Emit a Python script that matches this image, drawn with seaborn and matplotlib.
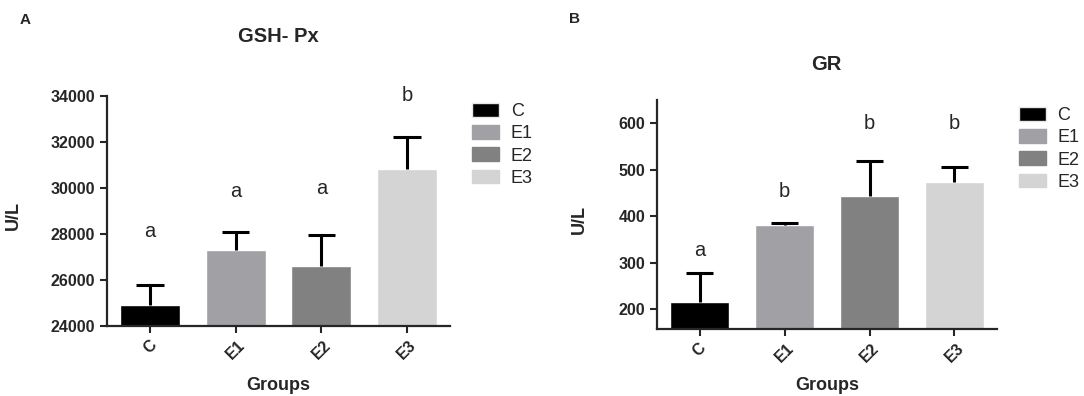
import numpy as np
import matplotlib
matplotlib.use('Agg')
import matplotlib.pyplot as plt
import seaborn as sns
from matplotlib.patches import Patch

groups = ['C', 'E1', 'E2', 'E3']
colors = ['#000000', '#a1a1a5', '#818181', '#d4d4d4']

# GSH-Px (U/L)
gsh_mean = [24900, 27300, 26620, 30830]
gsh_err = [900, 775, 1340, 1380]
gsh_sig = ['a', 'a', 'a', 'b']
gsh_sig_y = [28100, 29850, 30000, 34030]

# GR (U/L)
gr_mean = [215, 381, 443, 473]
gr_err = [63, 5, 77, 34]
gr_sig = ['a', 'b', 'b', 'b']
gr_sig_y = [326, 453, 600, 600]

sns.set_style('ticks')
plt.rcParams['font.family'] = ['Liberation Sans', 'DejaVu Sans']

fig = plt.figure(figsize=(10.84, 3.96), dpi=100)
ax1 = fig.add_axes([107 / 1084, 1 - 326 / 396, 343 / 1084, 230 / 396])
ax2 = fig.add_axes([657 / 1084, 1 - 329 / 396, 340 / 1084, 229 / 396])


def panel(ax, mean, err, sig, sig_y, ylim, yticks, title, title_xy, letter, ylab_x, xlab_y):
    sns.barplot(x=groups, y=mean, hue=groups, palette=colors, width=0.7,
                legend=False, ax=ax, saturation=1)
    x = np.arange(len(groups))
    top = np.array(mean) + np.array(err)
    ax.vlines(x, mean, top, color='black', lw=2.2, zorder=5)
    ax.hlines(top, x - 0.16, x + 0.16, color='black', lw=2.2, zorder=5)
    for xi, s, yi in zip(x, sig, sig_y):
        ax.text(xi, yi, s, ha='center', va='center', fontsize=14.5, clip_on=False)

    ax.set_xlim(-0.5, 3.5)
    ax.set_ylim(*ylim)
    ax.set_yticks(yticks)
    sns.despine(ax=ax)
    for sp in ['left', 'bottom']:
        ax.spines[sp].set_linewidth(1.6)
    ax.tick_params(axis='both', width=1.5, length=5, labelsize=11.5)
    for lab in ax.get_yticklabels():
        lab.set_fontweight('bold')
    ax.set_xticks(x)
    ax.set_xticklabels(groups, rotation=45, ha='center', fontweight='bold')

    ax.set_xlabel('Groups', fontsize=13, fontweight='bold')
    ax.set_ylabel('U/L', fontsize=13, fontweight='bold')
    ax.xaxis.set_label_coords(0.5, xlab_y)
    ax.yaxis.set_label_coords(ylab_x, 0.48)
    ax.text(title_xy[0], title_xy[1], title, transform=ax.transAxes, ha='center',
            va='center', fontsize=14.5, fontweight='bold')

    handles = [Patch(facecolor=c, edgecolor='#e8e8e8' if c == '#000000' else c, label=g)
               for g, c in zip(groups, colors)]
    ax.legend(handles=handles, loc='upper left', bbox_to_anchor=(1.064, 0.97),
              frameon=False, borderpad=0, borderaxespad=0, fontsize=13,
              handlelength=1.5, handleheight=0.8, handletextpad=0.65,
              labelspacing=0.28)
    fig.text(letter[1] / 1084, 1 - letter[2] / 396, letter[0], fontsize=11,
             fontweight='bold', ha='center', va='center')


panel(ax1, gsh_mean, gsh_err, gsh_sig, gsh_sig_y, (24000, 34000),
      [24000, 26000, 28000, 30000, 32000, 34000], 'GSH- Px', (0.5, 1.257),
      ('A', 25, 20), -0.248, -0.22)
panel(ax2, gr_mean, gr_err, gr_sig, gr_sig_y, (158, 650),
      [200, 300, 400, 500, 600], 'GR', (0.497, 1.157),
      ('B', 574, 19), -0.203, -0.21)

fig.savefig('out.png', dpi=100)
